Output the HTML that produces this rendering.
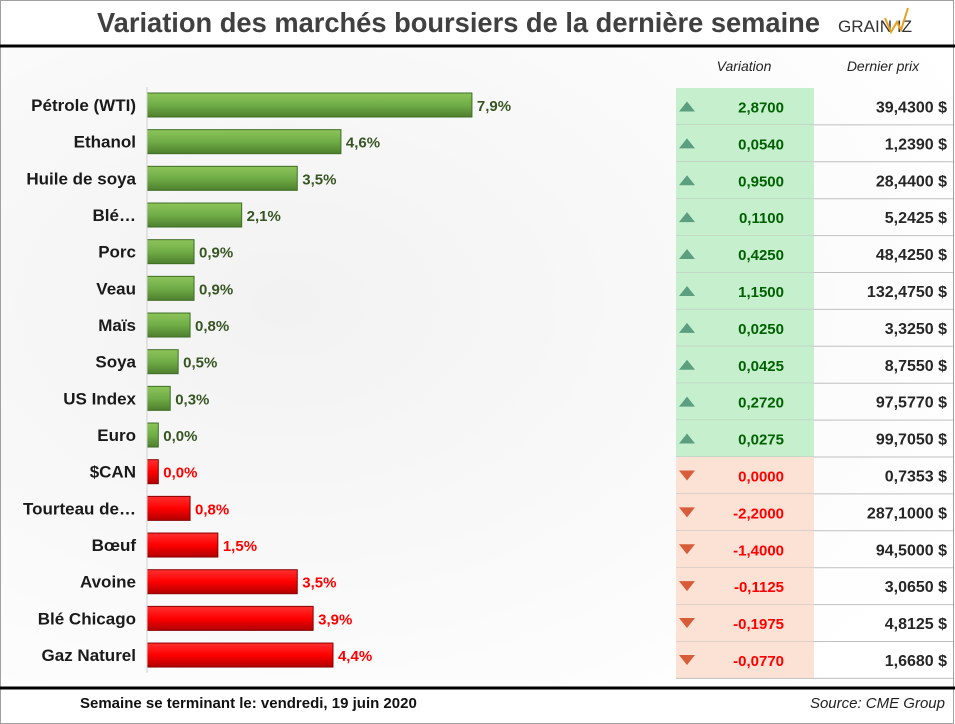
<!DOCTYPE html>
<html><head><meta charset="utf-8"><style>
html,body{margin:0;padding:0;background:#fff}
svg{display:block;font-family:"Liberation Sans",sans-serif}
</style></head><body>
<svg id="chart" width="955" height="724" viewBox="0 0 955 724">
<defs>
<linearGradient id="gG" x1="0" y1="0" x2="0" y2="1"><stop offset="0" stop-color="#8cc45a"/><stop offset="0.5" stop-color="#70ad47"/><stop offset="1" stop-color="#4e7f2e"/></linearGradient>
<linearGradient id="gR" x1="0" y1="0" x2="0" y2="1"><stop offset="0" stop-color="#ff3030"/><stop offset="0.5" stop-color="#f00"/><stop offset="1" stop-color="#b00000"/></linearGradient>
<radialGradient id="bg" cx="0.3" cy="0.4" r="0.8"><stop offset="0" stop-color="#f2f2f2"/><stop offset="1" stop-color="#ffffff"/></radialGradient>
</defs>
<rect x="0" y="0" width="955" height="724" fill="#fff"/>
<rect x="1" y="48" width="952" height="640" fill="url(#bg)"/>
<rect x="0.5" y="0.5" width="953" height="723" fill="none" stroke="#a0a0a0"/>
<text x="97" y="32" font-size="28" font-weight="bold" fill="#404040" textLength="723" lengthAdjust="spacingAndGlyphs">Variation des marchés boursiers de la dernière semaine</text>
<g>
<text x="838" y="32" font-size="17" fill="#333" textLength="74" lengthAdjust="spacingAndGlyphs">GRAIN  IZ</text>
<polyline points="885,18 891,32 897,22 901,30 908,8" fill="none" stroke="#e8a020" stroke-width="2"/>
</g>
<line x1="0" y1="46" x2="955" y2="46" stroke="#000" stroke-width="3"/>
<text x="744" y="71" font-size="14" font-style="italic" fill="#222" text-anchor="middle">Variation</text>
<text x="883" y="71" font-size="14" font-style="italic" fill="#222" text-anchor="middle">Dernier prix</text>
<g id="rows"></g>
<line x1="0" y1="688" x2="955" y2="688" stroke="#000" stroke-width="3"/>
<text x="80" y="708" font-size="15" font-weight="bold" fill="#111">Semaine se terminant le:  vendredi, 19 juin 2020</text>
<text x="945" y="708" font-size="15" font-style="italic" fill="#222" text-anchor="end">Source: CME Group</text>
</svg>
<script>
const categories=["Pétrole (WTI)","Ethanol","Huile de soya","Blé…","Porc","Veau","Maïs","Soya","US Index","Euro","$CAN","Tourteau de…","Bœuf","Avoine","Blé Chicago","Gaz Naturel"];
const pctValues=[7.9,4.6,3.5,2.1,0.9,0.9,0.8,0.5,0.3,0.0,0.0,-0.8,-1.5,-3.5,-3.9,-4.4];
const pctLabels=["7,9%","4,6%","3,5%","2,1%","0,9%","0,9%","0,8%","0,5%","0,3%","0,0%","0,0%","0,8%","1,5%","3,5%","3,9%","4,4%"];
const variationLabels=["2,8700","0,0540","0,9500","0,1100","0,4250","1,1500","0,0250","0,0425","0,2720","0,0275","0,0000","-2,2000","-1,4000","-0,1125","-0,1975","-0,0770"];
const priceLabels=["39,4300 $","1,2390 $","28,4400 $","5,2425 $","48,4250 $","132,4750 $","3,3250 $","8,7550 $","97,5770 $","99,7050 $","0,7353 $","287,1000 $","94,5000 $","3,0650 $","4,8125 $","1,6680 $"];
const upFlags=[1,1,1,1,1,1,1,1,1,1,0,0,0,0,0,0];

const NS="http://www.w3.org/2000/svg";
const g=document.getElementById('rows');
const x0=147, perPct=39.7, minW=11.3;
const barLen=v=>minW+Math.abs(v)*perPct;
const rowTop0=88, rowH=36.9;
const yMid=i=>105+i*36.67;
function mk(tag,attrs,parent){const e=document.createElementNS(NS,tag);for(const k in attrs)e.setAttribute(k,attrs[k]);(parent||g).appendChild(e);return e;}
categories.forEach((c,i)=>{
  const up=upFlags[i]===1;
  const y=yMid(i);
  const t=mk('text',{x:136,y:y+6,'font-size':17,'font-weight':'bold',fill:'#1a1a1a','text-anchor':'end'});
  t.textContent=c;
  
  
  const w=barLen(pctValues[i]);
  const b=mk('rect',{x:x0,y:y-12,width:w,height:24,fill:up?'url(#gG)':'url(#gR)',stroke:up?'#3f6e25':'#8b0000','stroke-width':1});
  
  
  const v=mk('text',{x:x0+w+5,y:y+6,'font-size':15,'font-weight':'bold',fill:up?'#375623':'#ff0000'});
  v.textContent=pctLabels[i];
  
  
  const top=rowTop0+i*rowH;
  const cell=mk('rect',{x:676,y:top,width:138,height:rowH,fill:up?'#c6efce':'#fbe2d5'});
  
  
  mk('line',{x1:676,y1:top+rowH,x2:953,y2:top+rowH,stroke:'#c0c0c0','stroke-width':1});
  const cy=top+rowH/2;
  const tri=mk('polygon',{points:up?`679,${cy+5} 695,${cy+5} 687,${cy-5}`:`679,${cy-5} 695,${cy-5} 687,${cy+5}`,fill:up?'#5c9e80':'#d85c3a'});
  
  
  const vt=mk('text',{x:784,y:cy+6,'font-size':15,'font-weight':'bold',fill:up?'#006100':'#ff0000','text-anchor':'end'});
  vt.textContent=variationLabels[i];
  
  
  const pt=mk('text',{x:947,y:cy+6,'font-size':16,'font-weight':'bold',fill:'#262626','text-anchor':'end'});
  pt.textContent=priceLabels[i];
  
  
});
const ax=mk('line',{x1:x0,y1:87,x2:x0,y2:673,stroke:'#d0d0d0','stroke-width':1});


</script>
</body></html>
